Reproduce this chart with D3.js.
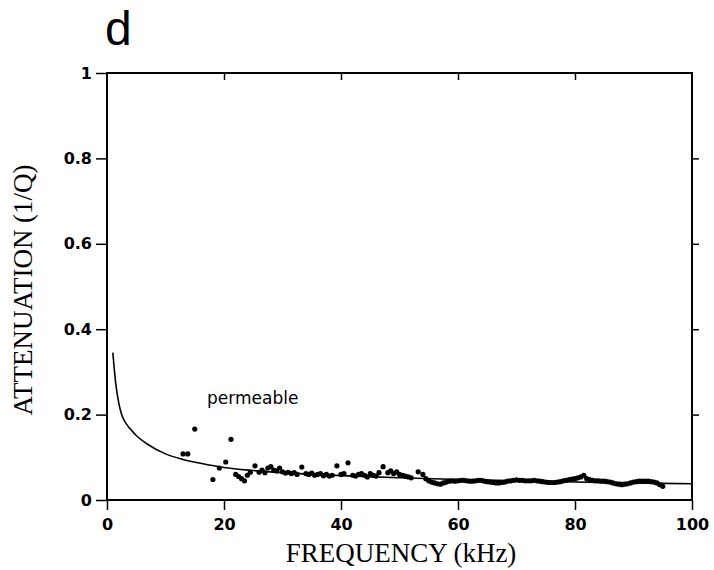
<!DOCTYPE html>
<html>
<head>
<meta charset="utf-8">
<script src="https://d3js.org/d3.v7.min.js"></script>
<style>
  body { margin: 0px; background: #fff; }
  .tick text { font: bold 16px "DejaVu Sans", sans-serif; fill: #000; }
  .title { font: 27px "Liberation Serif", "Times New Roman", serif; fill: #000; }
</style>
</head>
<body>
<svg id="chart" width="714" height="570"></svg>
<script>
// x ticks / y ticks
var xTicks = [0, 20, 40, 60, 80, 100];
var yTicks = [0, 0.2, 0.4, 0.6, 0.8, 1];

// model curve (frequency kHz, 1/Q)
var curve = [[1,0.345],[1.5,0.272],[2,0.228],[2.5,0.2],[3,0.185],[4,0.166],[5,0.151],[7,0.13],
  [10,0.108],[13,0.095],[16,0.086],[20,0.076],[25,0.069],[30,0.064],[40,0.057],[50,0.052],
  [60,0.048],[70,0.045],[80,0.042],[90,0.04],[100,0.038]];

// measured points, sparse part
var ptsLow = [[13.0,0.108],[13.8,0.108],[15.0,0.166],[18.1,0.048],[19.2,0.075],[20.3,0.089],[21.2,0.142],
  [22.0,0.06],[22.5,0.055],[23,0.05],[23.5,0.045],[24,0.058],[24.5,0.065],[25.3,0.08],[26,0.065],
  [26.5,0.07],[27,0.064],[27.5,0.075],[28,0.078],[28.5,0.07],[29,0.068],[29.5,0.075],[30,0.066],
  [30.5,0.063],[31,0.065],[31.5,0.062],[32,0.064],[32.5,0.06],[33.3,0.077],[34,0.062],[34.5,0.06],
  [35,0.063],[35.5,0.058],[36,0.06],[36.5,0.062],[37,0.057],[37.5,0.06],[38,0.056],[38.5,0.058],
  [39.3,0.08],[40,0.06],[40.5,0.062],[41.2,0.087],[42,0.058],[42.5,0.056],[43,0.06],[43.5,0.062],
  [44,0.058],[44.5,0.054],[45,0.062],[45.5,0.058],[46,0.056],[46.5,0.064],[47.2,0.078],[48,0.064],
  [48.5,0.068],[49,0.062],[49.5,0.066],[50,0.06],[50.5,0.058],[51,0.056],[51.5,0.054],[52,0.052],
  [53.2,0.066],[54,0.06],[54.5,0.05]];

// measured points, dense band
var ptsHigh = [[55,0.045],[55.5,0.042],[56,0.04],[56.5,0.038],[57,0.037],[57.5,0.04],[58,0.042],
  [58.5,0.044],[59,0.045],[59.5,0.044],[60,0.045],[60.5,0.046],[61,0.046],[61.5,0.045],[62,0.044],
  [62.5,0.044],[63,0.045],[63.5,0.046],[64,0.046],[64.5,0.044],[65,0.043],[65.5,0.042],[66,0.041],
  [66.5,0.04],[67,0.04],[67.5,0.041],[68,0.042],[68.5,0.044],[69,0.045],[69.5,0.046],[70,0.047],
  [70.5,0.046],[71,0.046],[71.5,0.045],[72,0.045],[72.5,0.045],[73,0.046],[73.5,0.045],[74,0.044],
  [74.5,0.043],[75,0.042],[75.5,0.041],[76,0.041],[76.5,0.041],[77,0.042],[77.5,0.043],[78,0.045],
  [78.5,0.046],[79,0.048],[79.5,0.049],[80,0.05],[80.5,0.052],[81,0.054],[81.5,0.058],[82,0.05],
  [82.5,0.048],[83,0.046],[83.5,0.045],[84,0.045],[84.5,0.044],[85,0.044],[85.5,0.043],[86,0.042],
  [86.5,0.04],[87,0.038],[87.5,0.037],[88,0.036],[88.5,0.037],[89,0.038],[89.5,0.04],[90,0.042],
  [90.5,0.043],[91,0.044],[91.5,0.044],[92,0.044],[92.5,0.044],[93,0.043],[93.5,0.042],[94,0.04],
  [94.5,0.036],[95,0.032]];

var svg = d3.select("#chart"),
    plotL = 107, plotR = 692, plotT = 73, plotB = 500;

var x = d3.scaleLinear().domain([0, 100]).range([plotL, plotR]);
var y = d3.scaleLinear().domain([0, 1]).range([plotB, plotT]);

// frame
svg.append("rect")
  .attr("x", plotL).attr("y", plotT)
  .attr("width", plotR - plotL).attr("height", plotB - plotT)
  .attr("fill", "none").attr("stroke", "#000").attr("stroke-width", 2);

// axes
svg.append("g").attr("transform", "translate(0," + plotB + ")")
  .call(d3.axisBottom(x).tickValues(xTicks).tickSize(10).tickPadding(9).tickFormat(d3.format("d")));
svg.append("g").attr("transform", "translate(" + plotL + ",0)")
  .call(d3.axisLeft(y).tickValues(yTicks).tickSize(11).tickPadding(4)
    .tickFormat(function(d) { return d === 0 || d === 1 ? d : d3.format(".1f")(d); }));
svg.append("g").attr("transform", "translate(0," + plotT + ")")
  .call(d3.axisBottom(x).tickValues(xTicks.slice(1, -1)).tickSize(7).tickFormat(""));
svg.append("g").attr("transform", "translate(" + plotR + ",0)")
  .call(d3.axisLeft(y).tickValues(yTicks.slice(1, -1)).tickSize(-7).tickFormat(""));
svg.selectAll(".domain").remove();
svg.selectAll(".tick line").attr("stroke", "#000").attr("stroke-width", 1.5);

// curve
svg.append("path")
  .datum(curve)
  .attr("fill", "none").attr("stroke", "#000").attr("stroke-width", 1.6)
  .attr("d", d3.line().curve(d3.curveMonotoneX).x(function(d) { return x(d[0]); }).y(function(d) { return y(d[1]); }));

// dots
svg.append("g").selectAll("circle")
  .data(ptsLow.concat(ptsHigh))
  .enter().append("circle")
    .attr("cx", function(d) { return x(d[0]); })
    .attr("cy", function(d) { return y(d[1]); })
    .attr("r", 2.6)
    .attr("fill", "#000");

// labels
svg.append("text").attr("x", 105).attr("y", 45)
  .style("font", "48px 'Liberation Sans', Arial, sans-serif").text("d");
svg.append("text").attr("x", 207).attr("y", 404)
  .style("font", "17px 'DejaVu Sans', sans-serif").text("permeable");
svg.append("text").attr("class", "title").attr("text-anchor", "middle")
  .attr("x", 401).attr("y", 562).text("FREQUENCY (kHz)");
svg.append("text").attr("class", "title").attr("text-anchor", "middle")
  .attr("transform", "translate(32,290) rotate(-90)").text("ATTENUATION (1/Q)");
</script>
</body>
</html>
